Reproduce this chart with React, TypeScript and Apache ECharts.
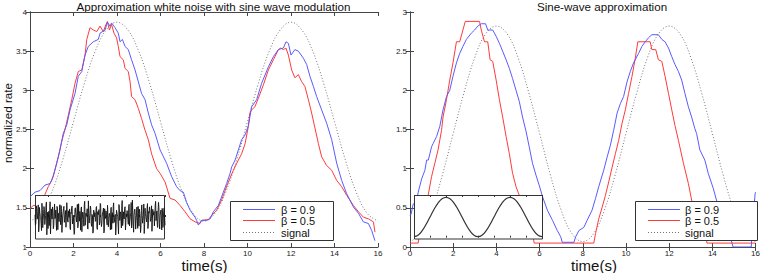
import React, { useEffect, useRef } from "react";
import * as echarts from "echarts";

const FONT = "Liberation Sans, Arial, sans-serif";
const BLUE = "#5a5aff";
const RED = "#ff3a3a";
const SIG = "#777777";
const AX = "#444444";

// ---------- data ----------
const leftBeta09: number[][] = [
  [0, 1.64], [0.23, 1.7], [0.46, 1.72], [0.69, 1.79], [0.92, 1.81], [1.07, 1.9], [1.23, 2.07], [1.38, 2.24],
  [1.53, 2.45], [1.69, 2.56], [1.84, 2.75], [2.07, 2.96], [2.22, 3.18], [2.38, 3.24], [2.53, 3.45], [2.68, 3.56],
  [2.91, 3.62], [3.14, 3.65], [3.22, 3.73], [3.45, 3.77], [3.56, 3.87], [3.68, 3.82], [3.75, 3.86], [3.91, 3.8],
  [4.06, 3.73], [4.14, 3.62], [4.25, 3.65], [4.37, 3.56], [4.52, 3.52], [4.67, 3.39], [4.83, 3.26], [4.98, 3.11],
  [5.13, 2.96], [5.29, 2.88], [5.44, 2.71], [5.59, 2.56], [5.75, 2.45], [5.98, 2.24], [6.28, 2.07], [6.51, 1.9],
  [6.74, 1.77], [6.9, 1.72], [7.05, 1.7], [7.2, 1.57], [7.36, 1.47], [7.59, 1.38], [7.66, 1.34], [7.74, 1.28],
  [7.89, 1.34], [8.12, 1.34], [8.28, 1.36], [8.43, 1.45], [8.66, 1.53], [8.89, 1.7], [9.04, 1.81], [9.2, 1.94],
  [9.27, 2.02], [9.43, 2.11], [9.58, 2.24], [9.73, 2.37], [9.89, 2.43], [10.04, 2.55], [10.19, 2.79], [10.42, 2.88],
  [10.65, 3.09], [10.96, 3.3], [11.19, 3.43], [11.42, 3.52], [11.65, 3.54], [11.77, 3.62], [11.88, 3.6], [12.0, 3.45],
  [12.18, 3.52], [12.34, 3.5], [12.57, 3.41], [12.72, 3.33], [12.87, 3.18], [13.03, 3.05], [13.18, 2.92], [13.41, 2.75],
  [13.64, 2.58], [13.87, 2.37], [14.1, 2.07], [14.33, 1.85], [14.56, 1.68], [14.87, 1.51], [15.1, 1.43], [15.33, 1.32],
  [15.56, 1.3], [15.71, 1.21], [15.86, 1.08],
];

const leftBeta05: number[][] = [
  [0, 1.49], [0.15, 1.53], [0.38, 1.53], [0.61, 1.62], [0.84, 1.77], [1.0, 1.85], [1.14, 1.98], [1.3, 2.15],
  [1.46, 2.35], [1.61, 2.5], [1.76, 2.68], [1.92, 2.88], [2.07, 3.09], [2.22, 3.24], [2.38, 3.26], [2.53, 3.45],
  [2.61, 3.65], [2.76, 3.8], [2.91, 3.77], [3.07, 3.75], [3.22, 3.82], [3.37, 3.75], [3.49, 3.84], [3.56, 3.88],
  [3.65, 3.77], [3.75, 3.84], [3.86, 3.73], [3.98, 3.67], [4.06, 3.56], [4.14, 3.43], [4.29, 3.39], [4.37, 3.28],
  [4.52, 3.24], [4.6, 3.11], [4.67, 2.92], [4.83, 2.88], [4.98, 2.77], [5.13, 2.64], [5.29, 2.49], [5.44, 2.37],
  [5.59, 2.19], [5.82, 2.0], [5.98, 1.94], [6.21, 1.83], [6.44, 1.62], [6.67, 1.6], [6.9, 1.53], [7.13, 1.45],
  [7.36, 1.36], [7.59, 1.32], [7.82, 1.3], [7.89, 1.34], [8.2, 1.35], [8.35, 1.4], [8.58, 1.47], [8.81, 1.6],
  [8.97, 1.72], [9.12, 1.83], [9.35, 1.98], [9.58, 2.11], [9.73, 2.19], [9.89, 2.32], [10.04, 2.54], [10.11, 2.71],
  [10.19, 2.75], [10.34, 2.79], [10.5, 2.9], [10.73, 3.07], [10.96, 3.26], [11.19, 3.39], [11.42, 3.52], [11.53, 3.54],
  [11.65, 3.52], [11.77, 3.54], [11.88, 3.45], [12.03, 3.26], [12.18, 3.16], [12.34, 3.2], [12.49, 3.11], [12.64, 3.05],
  [12.8, 2.88], [12.95, 2.71], [13.1, 2.52], [13.26, 2.32], [13.41, 2.15], [13.64, 2.04], [13.87, 1.98], [14.1, 1.85],
  [14.33, 1.77], [14.56, 1.66], [14.87, 1.53], [15.1, 1.45], [15.33, 1.38], [15.56, 1.36], [15.79, 1.32], [15.86, 1.19],
];

const rightBeta09: number[][] = [
  [0, 0.4], [0.05, 0.42], [0.15, 0.55], [0.3, 0.57], [0.38, 0.7], [0.54, 0.87], [0.69, 0.98], [0.77, 1.11],
  [0.85, 1.11], [0.92, 1.19], [1.0, 1.28], [1.07, 1.32], [1.23, 1.41], [1.38, 1.54], [1.53, 1.75], [1.69, 1.92],
  [1.84, 2.0], [1.99, 2.18], [2.15, 2.35], [2.3, 2.47], [2.45, 2.56], [2.61, 2.65], [2.84, 2.73], [2.99, 2.77],
  [3.14, 2.82], [3.3, 2.85], [3.5, 2.85], [3.6, 2.77], [3.83, 2.77], [3.99, 2.69], [4.14, 2.6], [4.29, 2.5],
  [4.45, 2.39], [4.6, 2.28], [4.75, 2.15], [4.91, 2.0], [5.06, 1.86], [5.21, 1.66], [5.37, 1.48], [5.52, 1.28],
  [5.67, 1.07], [5.83, 0.92], [5.98, 0.79], [6.14, 0.64], [6.36, 0.47], [6.6, 0.34], [6.82, 0.21], [6.98, 0.13],
  [7.05, 0.06], [7.59, 0.06], [7.67, 0.13], [7.82, 0.21], [8.05, 0.25], [8.2, 0.34], [8.43, 0.47], [8.59, 0.62],
  [8.74, 0.77], [8.97, 0.98], [9.13, 1.15], [9.28, 1.3], [9.43, 1.49], [9.59, 1.71], [9.74, 1.83], [9.89, 1.92],
  [10.05, 2.11], [10.2, 2.24], [10.35, 2.35], [10.58, 2.47], [10.74, 2.56], [10.89, 2.62], [11.04, 2.67], [11.2, 2.71],
  [11.5, 2.71], [11.66, 2.65], [11.81, 2.62], [11.97, 2.54], [12.12, 2.43], [12.27, 2.33], [12.43, 2.24], [12.58, 2.13],
  [12.73, 1.96], [12.89, 1.79], [13.04, 1.66], [13.19, 1.51], [13.27, 1.45], [13.42, 1.24], [13.65, 1.11], [13.81, 0.94],
  [14.04, 0.75], [14.19, 0.6], [14.42, 0.4], [14.65, 0.25], [14.88, 0.08], [14.96, 0.0], [15.8, 0.0], [15.88, 0.34],
  [15.98, 0.68], [16, 0.7],
];

const rightBeta05: number[][] = [
  [0, 0.05], [0.38, 0.05], [0.46, 0.21], [0.84, 0.66], [1.0, 0.9], [1.15, 1.07], [1.3, 1.24], [1.46, 1.49],
  [1.53, 1.66], [1.69, 1.88], [1.84, 2.13], [1.99, 2.35], [2.15, 2.62], [2.3, 2.62], [2.45, 2.77], [2.56, 2.88],
  [3.22, 2.88], [3.3, 2.77], [3.45, 2.62], [3.6, 2.62], [3.71, 2.39], [3.83, 2.37], [3.99, 2.13], [4.14, 1.88],
  [4.29, 1.66], [4.45, 1.41], [4.6, 1.19], [4.75, 0.94], [4.91, 0.77], [5.06, 0.66], [5.3, 0.45], [5.5, 0.28],
  [5.7, 0.13], [5.75, 0.05], [8.51, 0.05], [8.59, 0.17], [8.74, 0.36], [8.9, 0.51], [9.05, 0.66], [9.2, 0.83],
  [9.36, 1.02], [9.51, 1.19], [9.66, 1.36], [9.82, 1.58], [9.97, 1.75], [10.12, 1.96], [10.28, 2.18], [10.43, 2.41],
  [10.55, 2.62], [11.12, 2.62], [11.2, 2.52], [11.38, 2.52], [11.5, 2.39], [11.66, 2.37], [11.81, 2.18], [11.97, 1.96],
  [12.12, 1.75], [12.27, 1.55], [12.43, 1.36], [12.66, 1.07], [12.89, 0.81], [13.04, 0.6], [13.3, 0.42], [13.5, 0.28],
  [13.7, 0.15], [13.75, 0.05], [16, 0.05],
];

const signalTimes: number[] = [
  0, 0.5, 1, 1.5, 2, 2.5, 3, 3.5, 4, 4.5, 5, 5.5, 6, 6.5, 7, 7.5, 8,
  8.5, 9, 9.5, 10, 10.5, 11, 11.5, 12, 12.5, 13, 13.5, 14, 14.5, 15, 15.5, 16,
];
const leftSignal: number[] = [
  1.33, 1.43, 1.7, 2.11, 2.6, 3.09, 3.5, 3.77, 3.87, 3.77, 3.5, 3.09, 2.6, 2.11, 1.7, 1.43, 1.33,
  1.43, 1.7, 2.11, 2.6, 3.09, 3.5, 3.77, 3.87, 3.77, 3.5, 3.09, 2.6, 2.11, 1.7, 1.43, 1.33,
];
const rightSignal: number[] = [
  0.07, 0.17, 0.47, 0.92, 1.45, 1.97, 2.42, 2.72, 2.82, 2.72, 2.42, 1.97, 1.45, 0.92, 0.47, 0.17, 0.07,
  0.17, 0.47, 0.92, 1.45, 1.97, 2.42, 2.72, 2.82, 2.72, 2.42, 1.97, 1.45, 0.92, 0.47, 0.17, 0.07,
];

// white-noise stimulus shown in the left inset (two interleaved sample lists)
const noiseA: number[] = [
  0.12, -0.35, 0.48, -0.07, 0.66, -0.52, 0.21, 0.03, -0.74, 0.39, -0.18, 0.57, -0.41, 0.09, 0.82, -0.26,
  -0.63, 0.31, 0.15, -0.92, 0.44, -0.11, 0.27, -0.48, 0.71, -0.05, -0.33, 0.58, -0.69, 0.2, 0.36, -0.15,
  0.62, -0.84, 0.06, 0.47, -0.29, 0.13, -0.56, 0.78, -0.22, 0.34, -0.02, -0.61, 0.25, 0.53, -0.38, 0.1,
  -0.95, 0.41, 0.18, -0.27, 0.69, -0.46, 0.04, 0.3, -0.72, 0.55, -0.13, 0.22, -0.5, 0.86, -0.31, 0.08,
  0.45, -0.66, 0.19, -0.04, 0.6, -0.37, 0.14, -0.88, 0.38, 0.02, -0.24, 0.51, -0.58, 0.29, 0.11, -0.43,
  0.74, -0.17, -0.35, 0.26, 0.49, -0.79, 0.07, 0.33, -0.21, 0.64, -0.53, 0.16, -0.09, 0.42, -0.67, 0.23,
  0.57, -0.3, 0.05, -0.98, 0.37, 0.12, -0.45, 0.68, -0.19, 0.28, -0.6, 0.9, -0.28, -0.06, 0.46, -0.71,
  0.17, 0.35, -0.14, 0.59, -0.49, 0.01, 0.79, -0.4, 0.24, -0.83, 0.32, 0.08, -0.23, 0.54, -0.62, 0.2,
  0.43, -0.1, -0.55, 0.66, -0.34, 0.15, -0.9, 0.48, 0.03, -0.27, 0.73, -0.44, 0.21, 0.39, -0.16, 0.61,
  -0.76, 0.1, 0.3, -0.5, 0.85, -0.2, -0.39, 0.27, 0.52, -0.65, 0.13, -0.08, 0.47, -0.57, 0.34, 0.06,
];
const noiseB: number[] = [
  -0.44, 0.61, -0.12, 0.29, -0.81, 0.52, 0.07, -0.36, 0.75, -0.58, 0.18, 0.4, -0.2, 0.63, -0.97, 0.26,
  0.11, -0.47, 0.83, -0.31, 0.04, 0.55, -0.64, 0.22, -0.09, 0.38, -0.73, 0.49, 0.14, -0.25, 0.67, -0.42,
  0.3, -0.86, 0.09, 0.58, -0.17, 0.35, -0.54, 0.81, -0.28, 0.02, 0.44, -0.69, 0.19, 0.6, -0.37, 0.13,
  -0.91, 0.5, -0.06, 0.32, -0.59, 0.72, -0.23, 0.1, 0.46, -0.8, 0.27, -0.14, 0.65, -0.45, 0.21, 0.03,
  -0.62, 0.88, -0.33, 0.16, 0.42, -0.51, 0.07, -0.77, 0.36, 0.24, -0.19, 0.57, -0.68, 0.12, 0.4, -0.3,
  0.7, -0.52, 0.05, 0.31, -0.87, 0.45, -0.08, 0.26, -0.43, 0.62, -0.16, 0.2, -0.7, 0.53, 0.09, -0.34,
  0.77, -0.25, 0.14, -0.56, 0.39, 0.01, -0.93, 0.48, 0.18, -0.22, 0.64, -0.47, 0.28, -0.11, 0.56, -0.74,
  0.06, 0.34, -0.4, 0.69, -0.18, 0.23, -0.6, 0.92, -0.29, 0.11, 0.43, -0.66, 0.17, -0.03, 0.58, -0.5,
  0.25, -0.85, 0.37, 0.08, -0.32, 0.71, -0.41, 0.19, -0.13, 0.47, -0.63, 0.3, 0.55, -0.24, 0.02, -0.78,
  0.42, 0.15, -0.49, 0.66, -0.2, 0.33, -0.57, 0.8, -0.35, 0.1, 0.38, -0.71, 0.22, -0.05, 0.5, -0.45,
];

const legendLabels = ["\u03b2 = 0.9", "\u03b2 = 0.5", "signal"];
const titles = ["Approximation white noise with sine wave modulation", "Sine-wave approximation"];
const yName = "normalized rate";
const xName = "time(s)";

// ---------- helpers ----------
const noiseData: number[][] = [];
noiseA.forEach((v, i) => {
  noiseData.push([2 * i, v]);
  noiseData.push([2 * i + 1, noiseB[i]]);
});

const tick = { show: true, inside: true, length: 4, lineStyle: { color: AX, width: 1 } };
const line = { show: true, lineStyle: { color: AX, width: 1 } };
const lbl = { show: true, fontSize: 8, color: "#222", fontFamily: FONT, margin: 3 };

function mainX(grid: number, pos: "bottom" | "top") {
  return {
    type: "value", gridIndex: grid, position: pos, min: 0, max: 16, interval: 2,
    axisLine: line, axisTick: tick, splitLine: { show: false },
    axisLabel: pos === "bottom" ? { ...lbl, margin: 2 } : { show: false },
  };
}
function mainY(grid: number, pos: "left" | "right", min: number, max: number) {
  return {
    type: "value", gridIndex: grid, position: pos, min, max, interval: 0.5,
    axisLine: line, axisTick: tick, splitLine: { show: false },
    axisLabel: pos === "left" ? lbl : { show: false },
  };
}
function insetX(grid: number, pos: "bottom" | "top", max: number, interval: number) {
  return {
    type: "value", gridIndex: grid, position: pos, min: 0, max, interval, z: 60,
    axisLine: { show: false }, axisTick: { show: true, inside: true, length: 2, lineStyle: { color: "#333" } },
    axisLabel: { show: false }, splitLine: { show: false },
  };
}
function insetY(grid: number, min: number, max: number) {
  return {
    type: "value", gridIndex: grid, min, max, z: 60,
    axisLine: { show: false }, axisTick: { show: false }, axisLabel: { show: false }, splitLine: { show: false },
  };
}

function legendGroup(bx: number, bw: number, lx1: number, lx2: number, tx: number) {
  const rows = [209.5, 220.5, 232.5];
  const strokes = [BLUE, RED, SIG];
  const els: any[] = [
    { type: "rect", z: 50, shape: { x: bx + 0.5, y: 201.5, width: bw, height: 39 }, style: { fill: "#fff", stroke: "#333", lineWidth: 1 } },
  ];
  rows.forEach((ry, i) => {
    els.push({
      type: "line", z: 51, shape: { x1: lx1, y1: ry, x2: lx2, y2: ry },
      style: { stroke: strokes[i], lineWidth: 1, lineDash: i === 2 ? [1, 2] : null },
    });
    els.push({
      type: "text", z: 51, x: tx, y: ry,
      style: { text: legendLabels[i], fontSize: 11, fontFamily: FONT, fill: "#111", align: "left", verticalAlign: "middle" },
    });
  });
  return els;
}

const mainLine = (data: any, color: string, xi: number, yi: number, extra: any = {}) => ({
  type: "line", data, xAxisIndex: xi, yAxisIndex: yi, symbol: "none", z: 2,
  lineStyle: { color, width: 1 }, ...extra,
});

const option: any = {
  animation: false,
  backgroundColor: "#ffffff",
  textStyle: { fontFamily: FONT },
  grid: [
    { left: 30, top: 12, width: 348, height: 235 },
    { left: 410, top: 12, width: 348, height: 235 },
    { left: 35, top: 195, width: 130, height: 44 },
    { left: 414, top: 195, width: 128, height: 44 },
  ],
  xAxis: [
    mainX(0, "bottom"), mainX(1, "bottom"), mainX(0, "top"), mainX(1, "top"),
    insetX(2, "bottom", noiseData.length - 1, 32), insetX(2, "top", noiseData.length - 1, 32),
    insetX(3, "bottom", 16, 2), insetX(3, "top", 16, 2),
  ],
  yAxis: [
    mainY(0, "left", 1, 4), mainY(1, "left", 0, 3), mainY(0, "right", 1, 4), mainY(1, "right", 0, 3),
    insetY(2, -1.2, 1.2), insetY(3, -0.09, 2.98),
  ],
  series: [
    mainLine(signalTimes.map((t, i) => [t, leftSignal[i]]), SIG, 0, 0, { smooth: 0.4, lineStyle: { color: SIG, width: 1, type: [1, 2] } }),
    mainLine(leftBeta05, RED, 0, 0),
    mainLine(leftBeta09, BLUE, 0, 0),
    mainLine(signalTimes.map((t, i) => [t, rightSignal[i]]), SIG, 1, 1, { smooth: 0.4, lineStyle: { color: SIG, width: 1, type: [1, 2] } }),
    mainLine(rightBeta05, RED, 1, 1),
    mainLine(rightBeta09, BLUE, 1, 1),
    {
      type: "line", xAxisIndex: 4, yAxisIndex: 4, symbol: "none", z: 60,
      data: noiseData, lineStyle: { color: "#111", width: 0.9 },
    },
    {
      type: "line", xAxisIndex: 6, yAxisIndex: 5, symbol: "none", z: 60, smooth: 0.4,
      data: signalTimes.map((t, i) => [t, rightSignal[i]]), lineStyle: { color: "#333", width: 1.2 },
    },
  ],
  graphic: [
    { type: "text", x: 213.5, y: 6, style: { text: titles[0], fontSize: 11.6, fontFamily: FONT, fill: "#111", align: "center", verticalAlign: "middle" } },
    { type: "text", x: 602, y: 6, style: { text: titles[1], fontSize: 11.6, fontFamily: FONT, fill: "#111", align: "center", verticalAlign: "middle" } },
    { type: "text", x: 7.5, y: 123, rotation: Math.PI / 2, style: { text: yName, fontSize: 11.6, fontFamily: FONT, fill: "#111", align: "center", verticalAlign: "middle" } },
    { type: "text", x: 204.5, y: 265, style: { text: xName, fontSize: 15, fontFamily: FONT, fill: "#111", align: "center", verticalAlign: "middle" } },
    { type: "text", x: 594, y: 265, style: { text: xName, fontSize: 15, fontFamily: FONT, fill: "#111", align: "center", verticalAlign: "middle" } },
    { type: "rect", z: 50, shape: { x: 35.5, y: 195.5, width: 129, height: 43.5 }, style: { fill: "#fff", stroke: "#333", lineWidth: 1 } },
    { type: "rect", z: 50, shape: { x: 414.5, y: 195.5, width: 128, height: 43.5 }, style: { fill: "#fff", stroke: "#333", lineWidth: 1 } },
    ...legendGroup(230, 103, 243, 275, 281),
    ...legendGroup(635, 122, 648, 680, 685),
  ],
};

export default function App() {
  const ref = useRef<HTMLDivElement>(null);
  useEffect(() => {
    if (!ref.current) return;
    const chart = echarts.init(ref.current, undefined, { renderer: "svg" });
    chart.setOption(option);
    return () => chart.dispose();
  }, []);
  return (
    <div
      ref={ref}
      style={{ position: "fixed", left: 0, top: 0, width: 763, height: 273, background: "#fff" }}
    />
  );
}
